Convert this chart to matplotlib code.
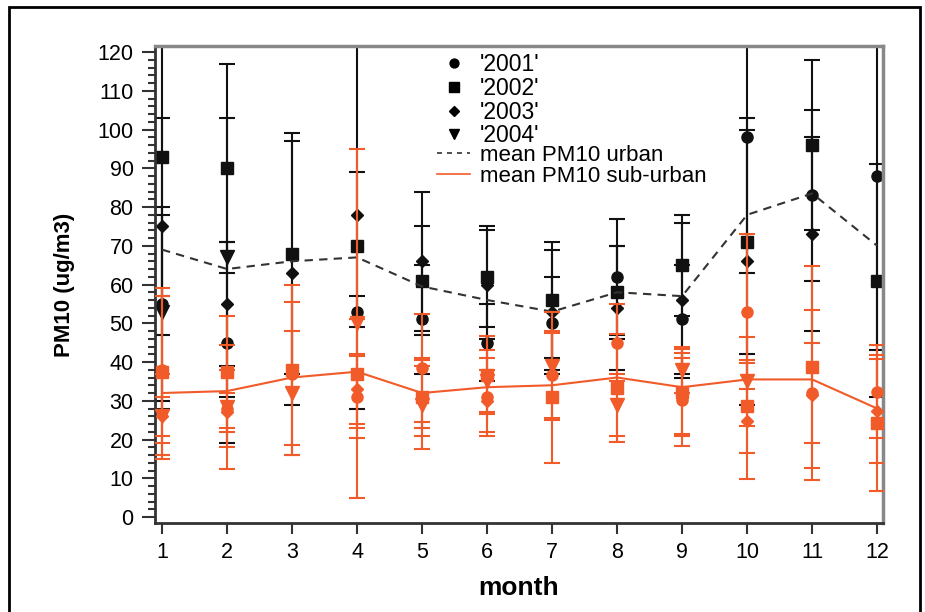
import numpy as np
import matplotlib
matplotlib.use('Agg')
import matplotlib.pyplot as plt
from matplotlib.lines import Line2D
from matplotlib.patches import Rectangle

plt.rcParams['font.family'] = ['Liberation Sans', 'DejaVu Sans']

nan = np.nan
months = np.arange(1, 13)
year_labels = ["'2001'", "'2002'", "'2003'", "'2004'"]

# urban sites (black): monthly mean and std per year
urban_2001 = [55, 45, nan, 53, 51, 45, 50, 62, 51, 98, 83, 88]
urban_2001_sd = [25, 26, nan, 4, 14, 10, 12, 15, 14, 35, 22, 45]
urban_2002 = [93, 90, 68, 70, 61, 62, 56, 58, 65, 71, 96, 61]
urban_2002_sd = [36, 27, 31, 19, 14, 13, 15, 12, 13, 29, 22, 30]
urban_2003 = [75, 55, 63, 78, 66, 60, 53, 54, 56, 66, 73, nan]
urban_2003_sd = [28, 16, 34, 50, 18, 14, 16, 16, 20, 37, 25, nan]
urban_2004 = [53, 67, nan, nan, nan, nan, nan, nan, nan, nan, nan, nan]
urban_2004_sd = [25, 36, nan, nan, nan, nan, nan, nan, nan, nan, nan, nan]

# sub-urban sites (red)
sub_2001 = [38, 28, 37, 31, 38.4, 31, 36.6, 45, 30.2, 53, 32, 32.3]
sub_2001_sd = [19, 10, 18.5, 10.5, 14, 10, 11, 10, 12, 20, 13, 12]
sub_2002 = [37.5, 37.5, 38, 37, 31, 36.6, 31, 33.3, 32.3, 28.6, 38.7, 24.2]
sub_2002_sd = [21.5, 14.5, 22, 14, 10, 10, 17, 14, 11, 12, 26, 17.5]
sub_2003 = [26, 27, nan, 33, 31, 30, nan, nan, 31, 24.8, 31.5, 27.4]
sub_2003_sd = [11, 5, nan, 9, 8, 8, nan, nan, 10, 15, 22, 13.5]
sub_2004 = [26, 28.5, 32, 50, 29, 35, 39, 29, 38, 35, nan, nan]
sub_2004_sd = [5, 16, 16, 45, 11.5, 8, 14, 8, 6, 11.5, nan, nan]

mean_urban = [69, 64, 66, 67, 59.5, 56, 53, 58, 57, 78, 83.5, 70]
mean_suburban = [32, 32.5, 36, 37.5, 32, 33.5, 34, 36, 33.5, 35.5, 35.5, 28]

urban = [(urban_2001, urban_2001_sd), (urban_2002, urban_2002_sd),
         (urban_2003, urban_2003_sd), (urban_2004, urban_2004_sd)]
suburban = [(sub_2001, sub_2001_sd), (sub_2002, sub_2002_sd),
            (sub_2003, sub_2003_sd), (sub_2004, sub_2004_sd)]

markers = ['o', 's', 'D', 'v']
msizes = [8, 8.5, 6.5, 9.5]
red = '#f15a29'
black = '#111111'

fig = plt.figure(figsize=(9.25, 6.12), dpi=100)
ax = fig.add_axes([0.1676, 0.1454, 0.7870, 0.7794])

for (vals, sd), m, ms in zip(urban, markers, msizes):
    ax.errorbar(months, vals, yerr=sd, fmt=m, ms=ms, color=black, ecolor=black,
                elinewidth=1.5, capsize=6, capthick=1.5, zorder=2)
ax.plot(months, mean_urban, color='#333333', ls=(0, (4, 3)), lw=1.5, zorder=3)

for (vals, sd), m, ms in zip(suburban, markers, msizes):
    ax.errorbar(months, vals, yerr=sd, fmt=m, ms=ms, color=red, ecolor=red,
                elinewidth=1.5, capsize=6, capthick=1.5, zorder=4)
ax.plot(months, mean_suburban, color=red, lw=1.5, zorder=5)

ax.set_xlim(0.892, 12.09)
ax.set_ylim(-1.55, 121.55)
ax.set_xticks(months)
ax.set_yticks(np.arange(0, 121, 10))
ax.set_yticks(np.arange(0, 121, 2), minor=True)
ax.tick_params(axis='both', which='major', labelsize=15.5, width=1.5, color='#333333')
ax.tick_params(axis='y', which='major', length=9.5, pad=6)
ax.tick_params(axis='y', which='minor', length=5, width=1.5, color='#333333')
ax.tick_params(axis='x', which='major', length=8, pad=6)

for side in ['left', 'bottom']:
    ax.spines[side].set_color('#333333')
    ax.spines[side].set_linewidth(2)
for side in ['top', 'right']:
    ax.spines[side].set_color('#888888')
    ax.spines[side].set_linewidth(2.5)

ax.set_xlabel('month', fontsize=19, fontweight='bold', labelpad=9)
ax.set_ylabel('PM10 (ug/m3)', fontsize=16, fontweight='bold', labelpad=16)

# legend: markers for the years, then the two mean lines
year_handles = [Line2D([], [], ls='none', marker=m, ms=ms * 0.8, color='black')
                for m, ms in zip(markers, msizes)]
leg_years = ax.legend(year_handles, year_labels, loc='upper left',
                      bbox_to_anchor=(0.388, 0.985), frameon=False, fontsize=16.5,
                      borderpad=0, borderaxespad=0, labelspacing=0.03,
                      handlelength=1.4, handletextpad=0.45)
ax.add_artist(leg_years)

line_handles = [Line2D([], [], color='#333333', ls=(0, (3, 3)), lw=1.2),
                Line2D([], [], color=red, lw=1.2)]
ax.legend(line_handles, ['mean PM10 urban', 'mean PM10 sub-urban'], loc='upper left',
          bbox_to_anchor=(0.388, 0.792), frameon=False, fontsize=16,
          borderpad=0, borderaxespad=0, labelspacing=0.0,
          handlelength=1.45, handletextpad=0.45)

# outer frame around the whole figure
fig.patches.append(Rectangle((0.0097, -0.05), 0.985, 1.0386, transform=fig.transFigure,
                             fill=False, edgecolor='black', lw=2))

fig.savefig('out.png', dpi=100)
